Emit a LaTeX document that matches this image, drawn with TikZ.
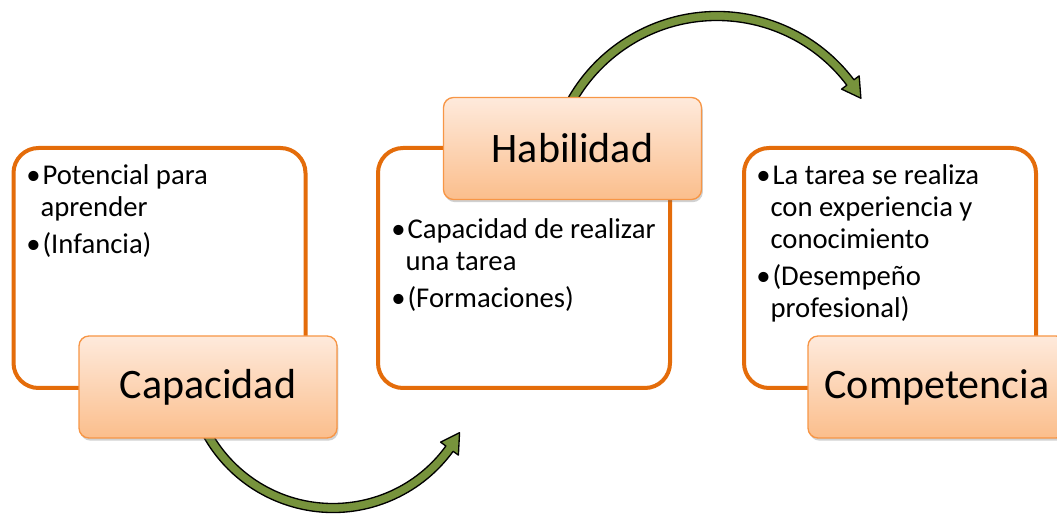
\documentclass[tikz,border=0pt]{standalone}
\usepackage{fontspec}
\setmainfont{Carlito}
\usepackage{xcolor}
\usepackage{tikz}
\usetikzlibrary{shadows}

\definecolor{frameorange}{RGB}{228,108,10}
\definecolor{titleorange}{RGB}{247,150,70}
\definecolor{peachtop}{RGB}{254,234,220}
\definecolor{peachbottom}{RGB}{251,190,140}
\definecolor{arrowgreen}{RGB}{119,147,60}

\newcommand{\bul}{\textbullet\kern1.5pt}
\newcommand{\ind}{\hphantom{\textbullet}}

\begin{document}
\begin{tikzpicture}[x=0.75pt, y=0.75pt,
	framebox/.style={draw=frameorange, line width=3pt, rounded corners=18.75pt, fill=white,
		minimum width=219pt, minimum height=180pt, inner sep=0pt},
	titlebox/.style={draw=titleorange, line width=1pt, rounded corners=7.5pt,
		top color=peachtop, bottom color=peachbottom,
		minimum width=193.5pt, minimum height=76.5pt, inner sep=0pt,
		font=\fontsize{31.5}{38}\selectfont,
		drop shadow={shadow xshift=1pt, shadow yshift=-2pt, opacity=0.3, fill=black!60}},
	bodytext/.style={anchor=north west, inner sep=0pt, align=left,
		font=\fontsize{21.5}{24}\selectfont},
	greenarrow/.style={fill=arrowgreen, draw=black, line width=1pt, line join=round}]
	\clip (0,0) rectangle (1057,514);
	% frames
	\node[framebox] (frame1) at (159.5,246) {};
	\node[framebox] (frame2) at (524,246) {};
	\node[framebox] (frame3) at (890,246) {};
	% bullet texts
	\node[bodytext] (text1) at (26,350) {\bul Potencial para\\ \ind aprender\\[3.75pt] \bul(Infancia)};
	\node[bodytext] (text2) at (391,296) {\bul Capacidad de realizar\\ \ind una tarea\\[3.75pt] \bul(Formaciones)};
	\node[bodytext] (text3) at (756,350) {\bul La tarea se realiza\\ \ind con experiencia y\\ \ind conocimiento\\[3.75pt] \bul(Desempe\~no\\ \ind profesional)};
	% curved arrows
	\draw[greenarrow, shift={(333,150)}] (205:148.5) arc[start angle=205, end angle=324, radius=148.5]
		-- (324:155) -- (331.5:144) -- (324:133) -- (324:139.5)
		arc[start angle=324, end angle=205, radius=139.5] -- cycle;
	\draw[greenarrow, shift={(717,331)}] (155:171.5) arc[start angle=155, end angle=37, radius=171.5]
		-- (37:178) -- (30.5:167) -- (37:156) -- (37:162.5)
		arc[start angle=37, end angle=155, radius=162.5] -- cycle;
	% titles
	\node[titlebox] (capacidad) at (208,127) {Capacidad};
	\node[titlebox] (habilidad) at (572.5,365.5) {Habilidad};
	\node[titlebox] (competencia) at (937,127) {Competencia};
\end{tikzpicture}
\end{document}
